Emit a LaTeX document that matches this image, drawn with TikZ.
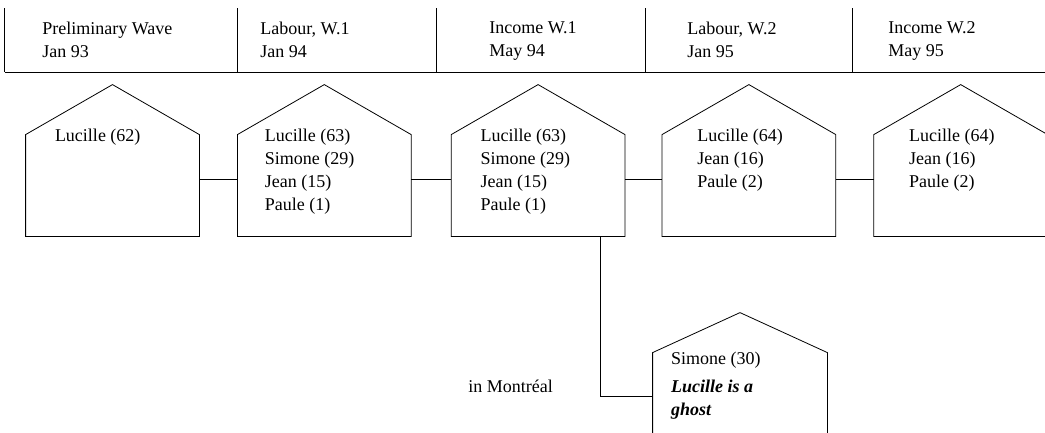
\documentclass[tikz,border=0pt]{standalone}
\usepackage{fontspec}
\setmainfont{Liberation Serif}
\usetikzlibrary{positioning}

\tikzset{
    house/.style={minimum width=173pt, minimum height=101pt, inner sep=0pt},
    names/.style={anchor=north west, align=left, inner sep=0pt},
}

\begin{document}
\begin{tikzpicture}[x=1pt, y=-1pt, line width=0.8pt, font=\fontsize{18}{23}\selectfont]
    \useasboundingbox (0,0) rectangle (1045,432);

    % Header of the waves
    \draw (4.5,72) -- (1045,72);
    \foreach \x in {4.5,237,436,645.5,852}
        \draw (\x,8) -- (\x,72);
    \node[names] (hd0) at (42,21.5)  {Preliminary Wave\\Jan 93};
    \node[names] (hd1) at (260,21.5) {Labour, W.1\\Jan 94};
    \node[names] (hd2) at (489,21.5) {Income W.1\\May 94};
    \node[names] (hd3) at (687,21.5) {Labour, W.2\\Jan 95};
    \node[names] (hd4) at (888,21.5) {Income W.2\\May 95};

    % Define houses
    \node[house] (w0) at (112.5,185.5) {};
    \node[house, right = 38pt of w0] (w1) {};
    \node[house, right = 40pt of w1] (w2) {};
    \node[house, right = 37pt of w2] (w3) {};
    \node[house, right = 38pt of w3] (w4) {};
    \node[house, minimum width=174pt] (ghost) at (740,403.5) {};
    \foreach \h/\rf in {w0/50,w1/50,w2/50,w3/50,w4/50,ghost/40}
        \draw (\h.south west) -- (\h.north west) -- ([yshift=\rf pt]\h.north)
            -- (\h.north east) -- (\h.south east) -- cycle;

    % Who lives there
    \node[names] (n0) at ([shift={(29,-6)}]w0.north west) {Lucille (62)};
    \node[names] (n1) at ([shift={(27,-6)}]w1.north west) {Lucille (63)\\Simone (29)\\Jean (15)\\Paule (1)};
    \node[names] (n2) at ([shift={(29,-6)}]w2.north west) {Lucille (63)\\Simone (29)\\Jean (15)\\Paule (1)};
    \node[names] (n3) at ([shift={(35,-6)}]w3.north west) {Lucille (64)\\Jean (16)\\Paule (2)};
    \node[names] (n4) at ([shift={(35,-6)}]w4.north west) {Lucille (64)\\Jean (16)\\Paule (2)};
    \node[names] (n5) at ([shift={(18,-1)}]ghost.north west) {Simone (30)\\[5pt]\textbf{\textit{Lucille is a}}\\\textbf{\textit{ghost}}};
    \node[anchor=base west, inner sep=0pt] (city) at (468,392) {in Montréal};

    % Connect houses
    \foreach \a/\b in {w0/w1,w1/w2,w2/w3,w3/w4}
        \draw ([yshift=6.5pt]\a.east) -- ([yshift=6.5pt]\b.west);
    \draw ([xshift=62pt]w2.south) |- ([yshift=7.5pt]ghost.west);
\end{tikzpicture}
\end{document}
